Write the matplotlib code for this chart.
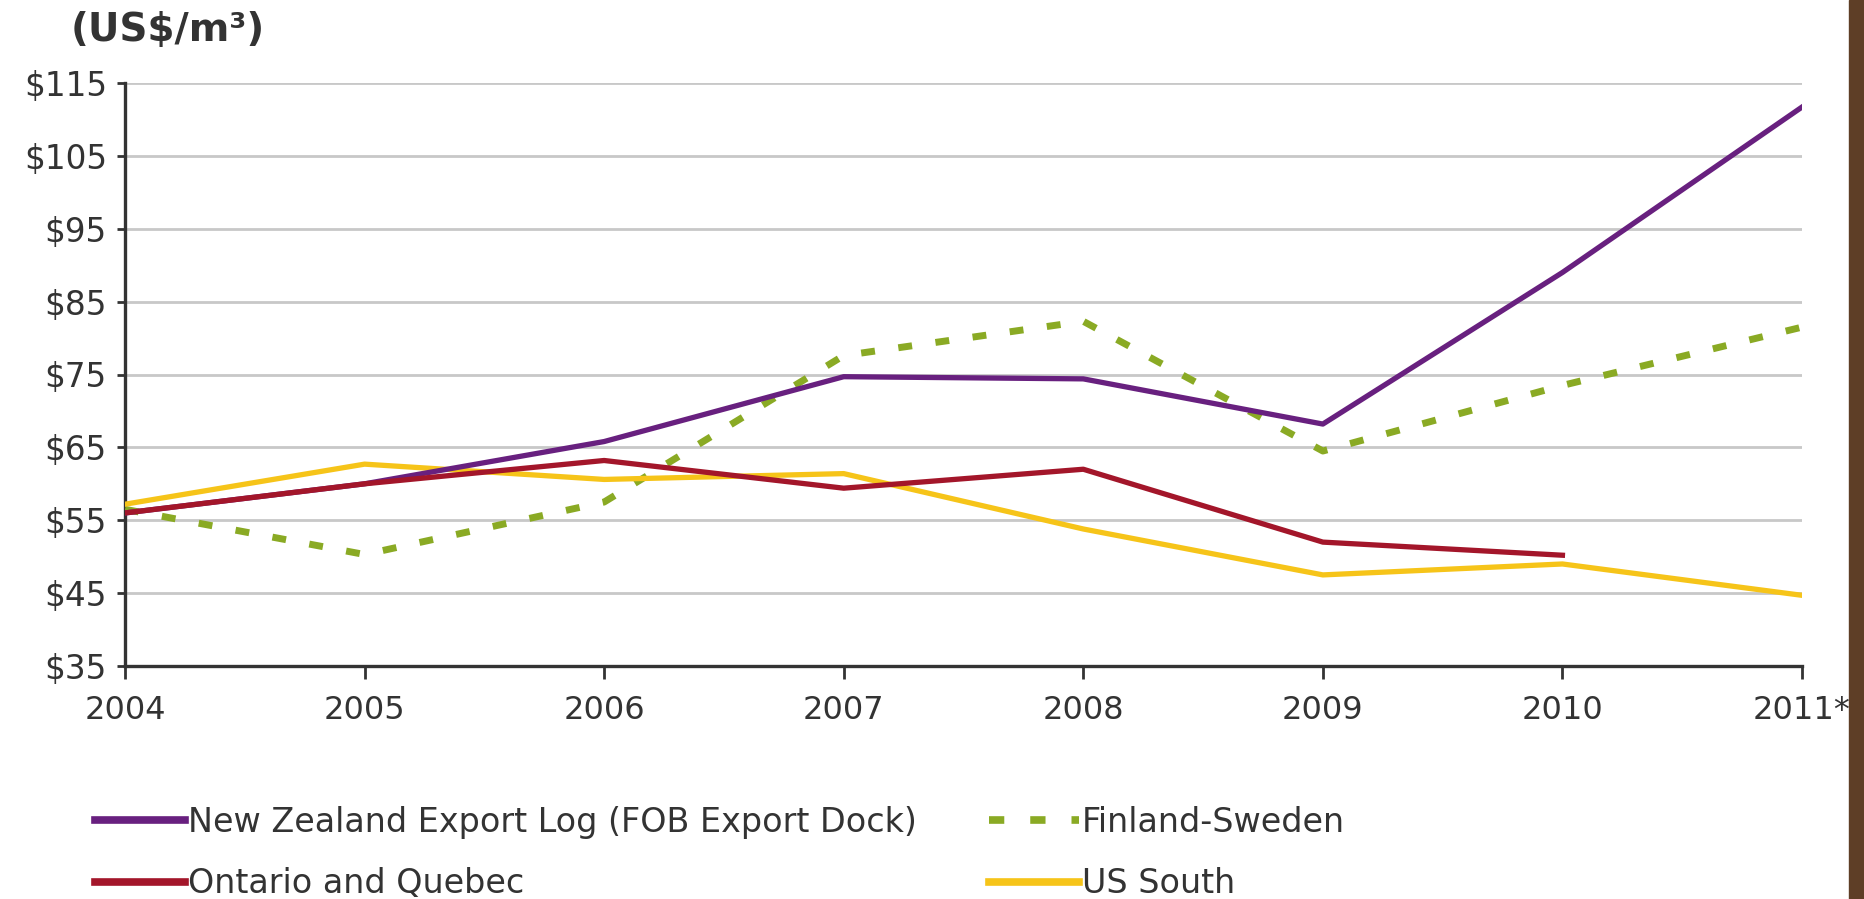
import matplotlib.pyplot as plt
from matplotlib.patches import Rectangle

# data (US$/m3)
years = [2004, 2005, 2006, 2007, 2008, 2009, 2010, 2011]
year_labels = ['2004', '2005', '2006', '2007', '2008', '2009', '2010', '2011*']
nz_export = [56.0, 60.0, 65.8, 74.7, 74.4, 68.2, 89.0, 111.7]
finland_sweden = [56.5, 50.3, 57.5, 77.6, 82.3, 64.5, 73.5, 81.5]
ontario_quebec = [56.0, 60.0, 63.2, 59.4, 62.0, 52.0, 50.2]
us_south = [57.2, 62.7, 60.6, 61.4, 53.8, 47.5, 49.0, 44.7]
y_ticks = [35, 45, 55, 65, 75, 85, 95, 105, 115]

fig = plt.figure(figsize=(18.64, 8.99), dpi=100)
ax = fig.add_axes([125/1864, 1 - 666/899, (1802-125)/1864, (666-83)/899])

l_nz, = ax.plot(years, nz_export, color='#68207f', lw=3.8,
                label='New Zealand Export Log (FOB Export Dock)', zorder=4)
l_fs, = ax.plot(years, finland_sweden, color='#8aaa24', lw=5, dashes=(2.0, 3.4),
                dash_capstyle='butt', label='Finland-Sweden', zorder=3)
l_oq, = ax.plot(years[:len(ontario_quebec)], ontario_quebec, color='#a3162a', lw=3.8,
                label='Ontario and Quebec', zorder=4)
l_us, = ax.plot(years, us_south, color='#f6c419', lw=3.8, label='US South', zorder=3)

ax.set_xlim(2004, 2011)
ax.set_ylim(35, 115)
ax.set_yticks(y_ticks)
ax.set_yticklabels(['$' + str(v) for v in y_ticks], fontsize=23.5, color='#333333')
ax.set_xticks(years)
ax.set_xticklabels(year_labels, fontsize=23, color='#333333')
ax.tick_params(axis='y', length=6, width=2, color='#333333', pad=7)
ax.tick_params(axis='x', length=9, width=2, color='#333333', pad=12)

ax.grid(axis='y', color='#c8c8c8', lw=2)
ax.set_axisbelow(True)
for s in ['top', 'right']:
    ax.spines[s].set_visible(False)
for s in ['left', 'bottom']:
    ax.spines[s].set_color('#333333')
    ax.spines[s].set_linewidth(2.4)

fig.text(71/1864, 1 - 30/899, '(US$/m\u00b3)', fontsize=28, fontweight='bold',
         color='#333333', va='center', ha='left')

# legend filled row by row: NZ, Finland / Ontario, US South
leg = fig.legend([l_nz, l_oq, l_fs, l_us],
                 [l_nz.get_label(), l_oq.get_label(), l_fs.get_label(), l_us.get_label()],
                 loc='upper left', bbox_to_anchor=(95/1864, 1 - 806/899), ncol=2,
                 frameon=False, fontsize=24, handlelength=2.7, handletextpad=0.1,
                 columnspacing=2.15, labelspacing=0.85, labelcolor='#333333',
                 borderpad=0, borderaxespad=0)
for h in leg.get_lines():
    h.set_linewidth(5.5)

# dark photo strip at the right edge of the screenshot
fig.patches.append(Rectangle((1849/1864, 0), 15/1864, 1, transform=fig.transFigure,
                             color='#5e3e26', zorder=0))

fig.savefig('out.png', dpi=100)
